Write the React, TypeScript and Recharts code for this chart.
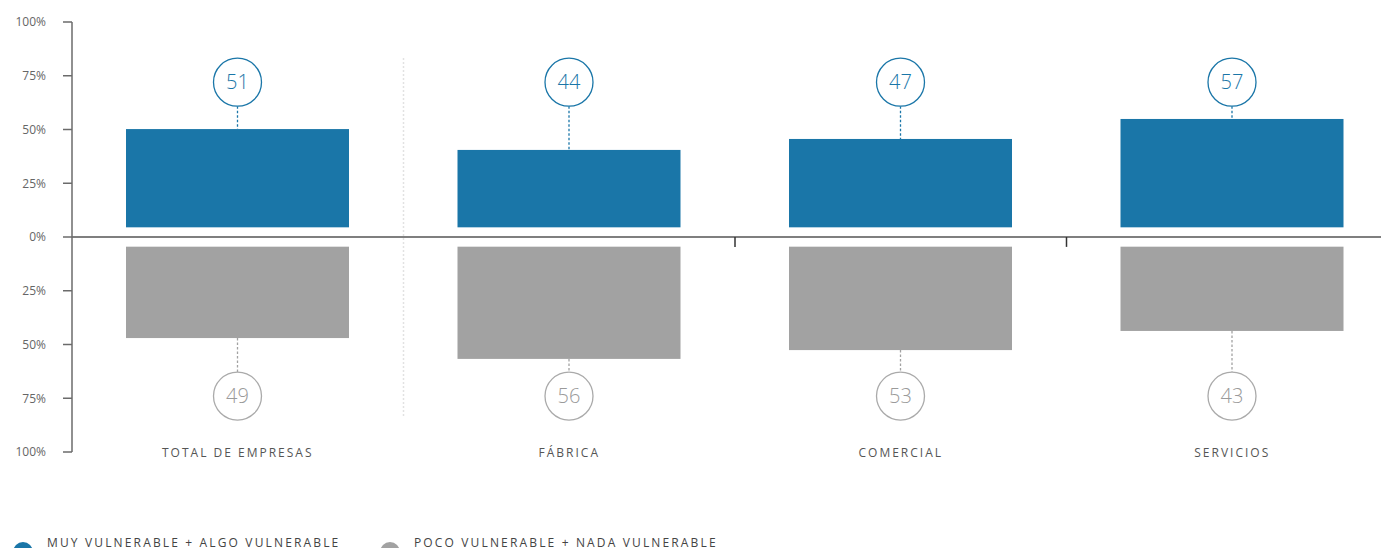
import React from 'react';
import { ComposedChart, Bar, XAxis, YAxis, ReferenceLine, Legend } from 'recharts';

// ---- data ----
const categories = ['TOTAL DE EMPRESAS', 'FÁBRICA', 'COMERCIAL', 'SERVICIOS'];
const vulnerableLabels = [51, 44, 47, 57];
const notVulnerableLabels = [49, 56, 53, 43];
const vulnerableBarTop = [50.2, 40.5, 45.6, 54.9];
const notVulnerableBarBottom = [47.0, 56.7, 52.6, 43.7];
const barGapFromZero = 4.5;
const upperBubbleLevel = 72;
const lowerBubbleLevel = -74;
const yTicks = [-100, -75, -50, -25, 0, 25, 50, 75, 100];
const legendNames = ['MUY VULNERABLE + ALGO VULNERABLE', 'POCO VULNERABLE + NADA VULNERABLE'];
const separatorSegment = [83.3, -84.2];
const boundaryTickDepth = -4.6;

const BLUE = '#1a76a8';
const GRAY = '#a2a2a2';

const data = categories.map((name, i) => ({
  name,
  slot: i + 0.5,
  pos: [barGapFromZero, vulnerableBarTop[i]],
  neg: [-notVulnerableBarBottom[i], -barGapFromZero],
  posLabel: vulnerableLabels[i],
  negLabel: notVulnerableLabels[i],
}));

const R = 24;

const PosShape = (props: any) => {
  const { x, y, width, height, payload } = props;
  const top = Math.min(y, y + height);
  const h = Math.abs(height);
  const [lo, hi] = payload.pos;
  const ppu = h / (hi - lo);
  const cx = x + width / 2;
  const cy = top - (upperBubbleLevel - hi) * ppu;
  return (
    <g>
      <rect x={x} y={top} width={width} height={h} fill={BLUE} />
      <line x1={cx} x2={cx} y1={cy + R} y2={top} stroke={BLUE} strokeWidth={1.3} strokeDasharray="2.5 2" />
      <circle cx={cx} cy={cy} r={R} fill="#fff" stroke={BLUE} strokeWidth={1.3} />
      <text x={cx} y={cy + 7} textAnchor="middle" fontSize={20} fontWeight={300} fill={BLUE}>
        {payload.posLabel}
      </text>
    </g>
  );
};

const NegShape = (props: any) => {
  const { x, y, width, height, payload } = props;
  const top = Math.min(y, y + height);
  const h = Math.abs(height);
  const [lo, hi] = payload.neg;
  const ppu = h / (hi - lo);
  const bottom = top + h;
  const cx = x + width / 2;
  const cy = bottom + (lo - lowerBubbleLevel) * ppu;
  return (
    <g>
      <rect x={x} y={top} width={width} height={h} fill={GRAY} />
      <line x1={cx} x2={cx} y1={bottom} y2={cy - R} stroke={GRAY} strokeWidth={1.3} strokeDasharray="2.5 2" />
      <circle cx={cx} cy={cy} r={R} fill="#fff" stroke="#aaaaaa" strokeWidth={1.3} />
      <text x={cx} y={cy + 7} textAnchor="middle" fontSize={20} fontWeight={300} fill="#9a9a9a">
        {payload.negLabel}
      </text>
    </g>
  );
};

const CatTick = (props: any) => {
  const { x, y, payload } = props;
  return (
    <text x={x} y={y + 5} textAnchor="middle" fontSize={12} letterSpacing={2} fill="#555">
      {payload.value}
    </text>
  );
};

const LegendContent = (props: any) => {
  const payload = props.payload || [];
  const lefts = [5, 372];
  return (
    <div style={{ position: 'relative', width: 900, height: 30 }}>
      {payload.map((p: any, i: number) => (
        <div key={i} style={{ position: 'absolute', left: lefts[i] ?? 0, top: 0, height: 30 }}>
          <div
            style={{
              position: 'absolute',
              left: 0,
              top: 7,
              width: 20,
              height: 20,
              borderRadius: 10,
              background: p.color,
            }}
          />
          <div
            style={{
              position: 'absolute',
              left: 34,
              top: 0,
              whiteSpace: 'nowrap',
              fontSize: 12,
              lineHeight: '16px',
              letterSpacing: 2.15,
              color: '#444',
            }}
          >
            {p.value}
          </div>
        </div>
      ))}
    </div>
  );
};

export default function App() {
  return (
    <div
      style={{
        width: 1381,
        height: 560,
        overflow: 'hidden',
        fontFamily: '"Open Sans", sans-serif',
      }}
    >
      <ComposedChart width={1390} height={560} data={data} margin={{ top: 14, right: 0, bottom: 20, left: 0 }}>
        <XAxis
          xAxisId="cat"
          dataKey="name"
          height={96}
          axisLine={false}
          tickLine={false}
          tickSize={0}
          tickMargin={0}
          tick={<CatTick />}
          interval={0}
        />
        <XAxis xAxisId="cat2" dataKey="name" hide />
        <XAxis xAxisId="num" dataKey="slot" type="number" domain={[0, 4]} hide allowDataOverflow />
        <YAxis
          width={64}
          domain={[-100, 100]}
          ticks={yTicks}
          interval={0}
          tickFormatter={(v: number) => `${Math.abs(v)}%`}
          tickSize={9}
          tickMargin={17}
          axisLine={{ stroke: '#6b6b6b', strokeWidth: 1.5 }}
          tickLine={{ stroke: '#6b6b6b', strokeWidth: 1.5 }}
          tick={{ fill: '#666', fontSize: 12 }}
        />
        <ReferenceLine
          xAxisId="num"
          segment={[
            { x: 1, y: separatorSegment[0] },
            { x: 1, y: separatorSegment[1] },
          ]}
          stroke="#e2e2e2"
          strokeWidth={1.5}
          strokeDasharray="2 2"
        />
        <Bar
          xAxisId="cat"
          dataKey="pos"
          name={legendNames[0]}
          fill={BLUE}
          barSize={223}
          shape={<PosShape />}
          isAnimationActive={false}
        />
        <Bar
          xAxisId="cat2"
          dataKey="neg"
          name={legendNames[1]}
          fill={GRAY}
          barSize={223}
          shape={<NegShape />}
          isAnimationActive={false}
        />
        <ReferenceLine xAxisId="num" y={0} stroke="#555" strokeWidth={1.5} />
        <ReferenceLine
          xAxisId="num"
          segment={[
            { x: 2, y: 0 },
            { x: 2, y: boundaryTickDepth },
          ]}
          stroke="#333"
          strokeWidth={1.5}
        />
        <ReferenceLine
          xAxisId="num"
          segment={[
            { x: 3, y: 0 },
            { x: 3, y: boundaryTickDepth },
          ]}
          stroke="#333"
          strokeWidth={1.5}
        />
        <Legend
          layout="horizontal"
          verticalAlign="middle"
          align="center"
          content={<LegendContent />}
          wrapperStyle={{ top: 527, left: 0, width: 900, height: 30 }}
        />
      </ComposedChart>
    </div>
  );
}
